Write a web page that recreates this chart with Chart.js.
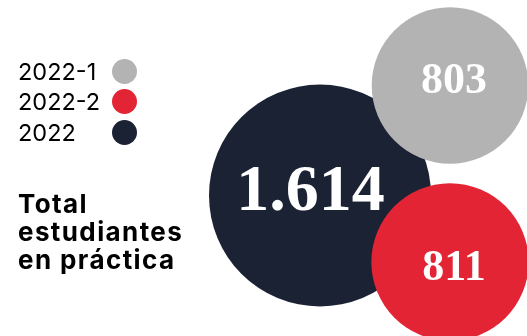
<!DOCTYPE html>
<html>
<head>
<meta charset="utf-8">
<script src="https://cdn.jsdelivr.net/npm/chart.js@4"></script>
<style>
  body { margin: 0; background: #fff; }
  #wrap { position: relative; width: 527px; height: 336px; }
  #bubbles { position: absolute; left: 0; top: 0; }
  #side { position: absolute; left: 18px; top: 56px; font-family: Inter, sans-serif; color: #000; }
  .row { display: flex; align-items: center; height: 30.5px; font-size: 23.5px; }
  .row span.lab { width: 94px; }
  .row span.dot { width: 25px; height: 25px; border-radius: 50%; display: inline-block; }
  #title { margin-top: 42px; font-weight: 700; font-size: 26px; line-height: 28px; letter-spacing: 1.4px; }
</style>
</head>
<body>
<div id="wrap">
  <canvas id="bubbles" width="527" height="336"></canvas>
  <div id="side">
    <div id="legend"></div>
    <div id="title">Total<br>estudiantes<br>en práctica</div>
  </div>
</div>
<script>
const categories = ["2022-1", "2022-2", "2022"];
const values = [803, 811, 1614];
const labels = ["803", "811", "1.614"];
const colors = ["#b3b3b3", "#e32434", "#1a2233"];

// where each bubble sits (scale units = px of canvas)
const centersX = [450, 450, 320];
const centersY = [85.5, 262, 195.5];
const radiusPerSqrt = 111 / Math.sqrt(1614);
const drawOrder = [2, 0, 1]; // big one underneath

// label look: font size and nudge from bubble centre
const labelSize = [44, 44, 66];
const labelDx = [4, 4, -9.5];
const labelDy = [7.5, 18, 14.5];

const legend = document.getElementById("legend");
categories.forEach((c, i) => {
  const row = document.createElement("div");
  row.className = "row";
  row.innerHTML = '<span class="lab">' + c + '</span><span class="dot" style="background:' + colors[i] + '"></span>';
  legend.appendChild(row);
});

const points = drawOrder.map(i => ({
  x: centersX[i],
  y: centersY[i],
  r: radiusPerSqrt * Math.sqrt(values[i]),
}));

const valueLabels = {
  id: "valueLabels",
  afterDatasetsDraw(chart) {
    const ctx = chart.ctx;
    const meta = chart.getDatasetMeta(0);
    ctx.save();
    ctx.fillStyle = "#fff";
    ctx.textAlign = "center";
    ctx.textBaseline = "alphabetic";
    meta.data.forEach((el, k) => {
      const i = drawOrder[k];
      ctx.font = "bold " + labelSize[i] + "px 'Liberation Serif', serif";
      ctx.fillText(labels[i], el.x + labelDx[i], el.y + labelDy[i]);
    });
    ctx.restore();
  },
};

const ctx = document.getElementById("bubbles").getContext("2d");
const myChart = new Chart(ctx, {
  type: "bubble",
  data: {
    datasets: [
      {
        label: "Total estudiantes",
        data: points,
        backgroundColor: drawOrder.map(i => colors[i]),
        borderWidth: 0,
        hoverBorderWidth: 0,
        clip: false,
      },
    ],
  },
  options: {
    responsive: false,
    animation: false,
    layout: { padding: 0, autoPadding: false },
    events: [],
    scales: {
      x: { display: false, min: 0, max: 527 },
      y: { display: false, min: 0, max: 336, reverse: true },
    },
    plugins: {
      legend: { display: false },
      tooltip: { enabled: false },
    },
  },
  plugins: [valueLabels],
});
</script>
</body>
</html>
